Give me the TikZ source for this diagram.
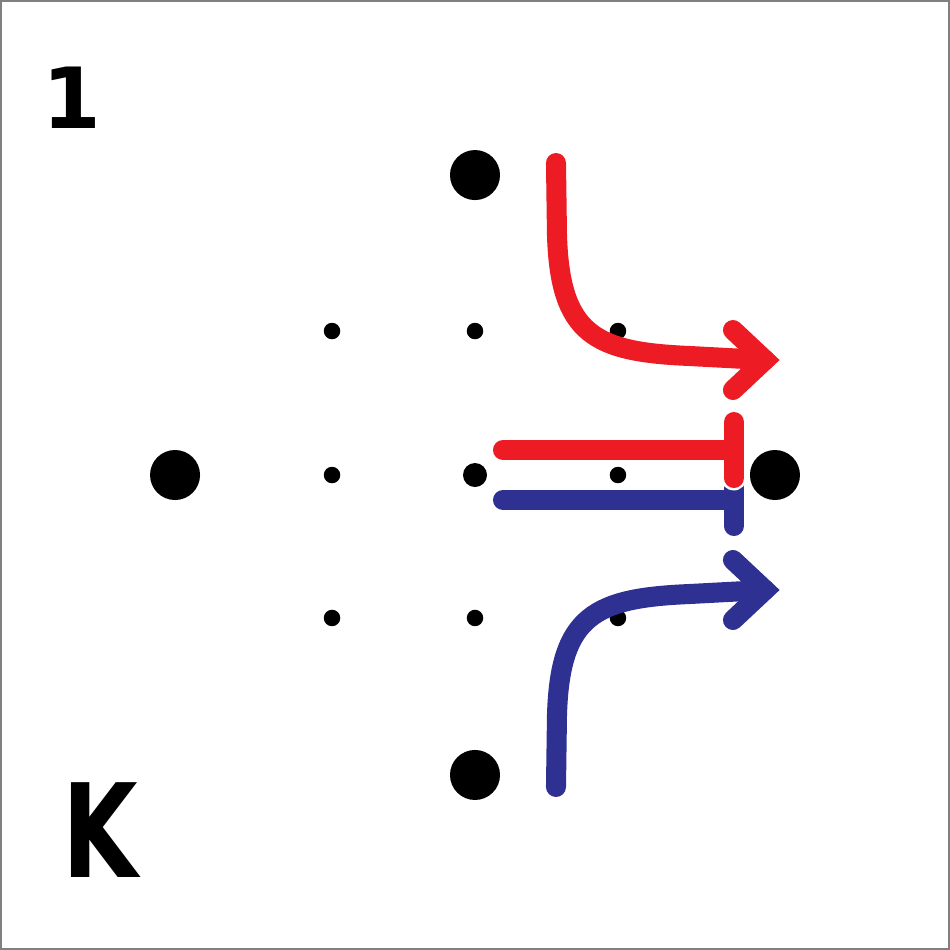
\documentclass[tikz,border=0pt]{standalone}
\usepackage{fontspec}
\setmainfont{DejaVu Sans}
\usetikzlibrary{calc}
\definecolor{actred}{RGB}{237,28,36}
\definecolor{inhblue}{RGB}{46,49,146}

\begin{document}
\begin{tikzpicture}[x=0.01cm,y=-0.01cm,
  bigdot/.style={circle,fill=black,inner sep=0pt,minimum size=0.5cm},
  smalldot/.style={circle,fill=black,inner sep=0pt,minimum size=0.165cm},
  thick path/.style={line width=5.7pt,line cap=round},
  chevron/.style={line width=5.7pt,line cap=round,line join=miter}]

 %frame:
 \draw[gray,line width=0.6pt] (1,1) rectangle (949,949);

 %labels:
 \node[font=\bfseries\fontsize{24}{24}\selectfont] (one) at (72,98) {1};
 \node[font=\bfseries\fontsize{37}{37}\selectfont,xscale=0.75] (kay) at (100,830) {K};

 %big dots:
 \node[bigdot] (top) at (475,175) {};
 \node[bigdot] (left) at (175,475) {};
 \node[bigdot] (right) at (775,475) {};
 \node[bigdot] (bottom) at (475,775) {};

 %small dots:
 \foreach \i/\x in {1/332,2/475,3/618}
  \foreach \j/\y in {1/331,2/475,3/618}
   \node[smalldot] (d\i\j) at (\x,\y) {};
 \node[circle,fill=black,inner sep=0pt,minimum size=0.24cm] (mid) at (475,475) {};

 %activating arrows:
 \coordinate (rs) at (556,163);
 \coordinate (re) at (765,360);
 \coordinate (bs) at (556,787);
 \coordinate (be) at (765,590);
 \draw[thick path,actred] (rs) -- (557,235) .. controls (560,335) and (595,352) .. (690,356) -- (re);
 \draw[chevron,actred] (733,330) -- (re) -- (733,390);
 \draw[thick path,inhblue] (bs) -- (557,715) .. controls (560,615) and (595,598) .. (690,594) -- (be);
 \draw[chevron,inhblue] (733,560) -- (be) -- (733,620);

 %inhibition bars:
 \coordinate (bl) at (503,500);
 \coordinate (bc) at (734,500);
 \coordinate (rl) at (503,450);
 \coordinate (rc) at (734,450);
 \draw[thick path,inhblue] (bl) -- (bc);
 \draw[thick path,inhblue] ($(bc)+(0,-12)$) -- ($(bc)+(0,26)$);
 \draw[line width=7.1pt,white,line cap=round] ($(rc)+(0,-28)$) -- ($(rc)+(0,28)$);
 \draw[thick path,actred] (rl) -- (rc);
 \draw[thick path,actred] ($(rc)+(0,-28)$) -- ($(rc)+(0,28)$);
\end{tikzpicture}
\end{document}
